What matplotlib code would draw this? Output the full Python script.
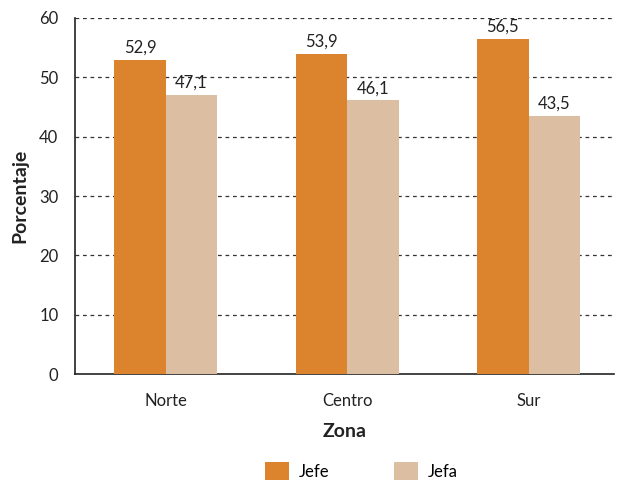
import matplotlib
matplotlib.use("Agg")
import matplotlib.pyplot as plt
import numpy as np

zonas = ["Norte", "Centro", "Sur"]
jefe = [52.9, 53.9, 56.5]
jefa = [47.1, 46.1, 43.5]
series_names = ["Jefe", "Jefa"]
yticks = [0, 10, 20, 30, 40, 50, 60]

plt.rcParams['font.family'] = ['Lato', 'DejaVu Sans']

fig = plt.figure(figsize=(6.17, 4.8), dpi=100)
ax = fig.add_axes([0.1216, 0.2208, 0.8734, 0.7417])

x = np.arange(len(zonas))
w = 0.284
c1, c2 = "#DC832D", "#DCBFA3"
b1 = ax.bar(x - w/2, jefe, w, color=c1, label=series_names[0], zorder=3)
b2 = ax.bar(x + w/2, jefa, w, color=c2, label=series_names[1], zorder=3)

def fmt(v):
    return f"{v:.1f}".replace(".", ",")

for rect, v in zip(list(b1) + list(b2), jefe + jefa):
    ax.text(rect.get_x() + rect.get_width()/2, v + 0.7, fmt(v),
            ha="center", va="bottom", fontsize=12, color="#222222", zorder=4)

ax.set_xlim(-0.5, 2.47)
ax.set_ylim(0, 60)
ax.set_yticks(yticks)
ax.set_xticks(x)
ax.set_xticklabels(zonas)
ax.tick_params(axis="both", labelsize=12, colors="#222222", length=0)
ax.tick_params(axis="x", pad=14)
ax.tick_params(axis="y", pad=12)
for yv in yticks[1:]:
    ax.axhline(yv, color="#333333", linestyle=(0, (3, 3)), linewidth=0.9, zorder=1)
for s in ["right", "top"]:
    ax.spines[s].set_visible(False)
ax.spines["left"].set_color("#222222")
ax.spines["bottom"].set_color("#222222")
ax.spines["left"].set_linewidth(1.2)
ax.spines["bottom"].set_linewidth(1.2)

ax.set_ylabel("Porcentaje", fontsize=14, fontweight="bold", color="#222222", labelpad=8)
ax.set_xlabel("Zona", fontsize=14, fontweight="bold", color="#222222", labelpad=10)

fig.legend(handles=[b1, b2], labels=series_names, loc="lower center",
           bbox_to_anchor=(0.586, -0.032), ncol=2, frameon=False, fontsize=12,
           handlelength=1.4, handleheight=1.3, columnspacing=3.9, handletextpad=0.6)

fig.savefig("out.png", dpi=100)
